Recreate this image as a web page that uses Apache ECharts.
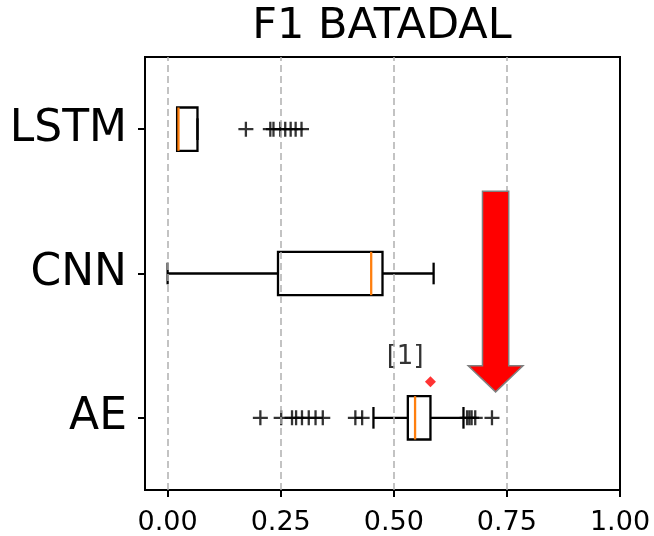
<!DOCTYPE html>
<html><head><meta charset="utf-8">
<script src="https://cdn.jsdelivr.net/npm/echarts@6/dist/echarts.min.js"></script>
<style>html,body{margin:0;padding:0;background:#fff}#c{width:654px;height:536px}</style>
</head><body><div id="c"></div>
<script>
const categories = ['AE', 'CNN', 'LSTM'];
const xTicks = [0, 0.25, 0.5, 0.75, 1.0];
// [low whisker, Q1, median, Q3, high whisker]
const statsAE = [0.455, 0.531, 0.547, 0.581, 0.654];
const statsCNN = [0.0, 0.244, 0.450, 0.475, 0.588];
const statsLSTM = [0.021, 0.021, 0.024, 0.066, 0.066];
const outliersAE = [0.205, 0.251, 0.275, 0.284, 0.297, 0.312, 0.327, 0.343, 0.415, 0.430, 0.662, 0.667, 0.672, 0.680, 0.717];
const outliersCNN = [];
const outliersLSTM = [0.173, 0.227, 0.234, 0.249, 0.260, 0.272, 0.283, 0.296];
const highlightPoint = [0.581, 1.25];
const highlightLabel = '[1]';
const highlightLabelAt = [0.525, 1.42];
const arrowSpec = [0.725, 2.57, 1.36, 1.18, 0.029, 0.0605]; // x, top, headBase, tip, shaftHalf, headHalf

const allStats = [statsAE, statsCNN, statsLSTM];
const allOutliers = [outliersAE, outliersCNN, outliersLSTM];
const boxData = allStats.map((s, i) => [i + 1].concat(s));
const outlierData = [];
allOutliers.forEach((arr, i) => arr.forEach(v => outlierData.push([v, i + 1])));

const FONT = 'DejaVu Sans';

function renderBox(params, api) {
  const yv = api.value(0);
  const lo = api.coord([api.value(1), yv]);
  const q1 = api.coord([api.value(2), yv]);
  const md = api.coord([api.value(3), yv]);
  const q3 = api.coord([api.value(4), yv]);
  const hi = api.coord([api.value(5), yv]);
  const band = api.size([0, 1])[1];
  const hb = band * 0.15, hc = band * 0.075;
  const y = q1[1];
  const ls = {stroke: '#000', lineWidth: 2.3, fill: null};
  return {type: 'group', children: [
    {type: 'line', shape: {x1: lo[0], y1: y, x2: q1[0], y2: y}, style: ls},
    {type: 'line', shape: {x1: q3[0], y1: y, x2: hi[0], y2: y}, style: ls},
    {type: 'line', shape: {x1: lo[0], y1: y - hc, x2: lo[0], y2: y + hc}, style: ls},
    {type: 'line', shape: {x1: hi[0], y1: y - hc, x2: hi[0], y2: y + hc}, style: ls},
    {type: 'rect', shape: {x: q1[0], y: y - hb, width: q3[0] - q1[0], height: 2 * hb}, style: {stroke: '#000', lineWidth: 2.3, fill: 'none'}},
    {type: 'line', shape: {x1: md[0], y1: y - hb, x2: md[0], y2: y + hb}, style: {stroke: '#ff7f0e', lineWidth: 2.3}}
  ]};
}

function renderArrow(params, api) {
  const x = api.value(0), top = api.value(1), hb = api.value(2), tip = api.value(3), sh = api.value(4), hh = api.value(5);
  const pts = [
    [x - sh, top], [x + sh, top], [x + sh, hb], [x + hh, hb], [x, tip], [x - hh, hb], [x - sh, hb]
  ].map(p => api.coord(p));
  return {type: 'polygon', shape: {points: pts}, style: {fill: '#ff0000', stroke: '#808080', lineWidth: 1.5}};
}

const chart = echarts.init(document.getElementById('c'));
chart.setOption({
  animation: false,
  textStyle: {fontFamily: FONT},
  title: {
    text: 'F1 BATADAL', left: 382, textAlign: 'center', top: 5, padding: 0,
    textStyle: {fontFamily: FONT, fontSize: 43, fontWeight: 'normal', color: '#000'}
  },
  grid: {left: 145, right: 34, top: 57, bottom: 46, show: true, borderColor: '#000', borderWidth: 2, backgroundColor: 'transparent'},
  xAxis: {
    type: 'value', min: -0.05, max: 1.0,
    axisLine: {show: true, onZero: false, lineStyle: {color: '#000', width: 2}},
    axisTick: {show: true, customValues: xTicks, length: 7, lineStyle: {color: '#000', width: 2}},
    axisLabel: {customValues: xTicks, formatter: v => v.toFixed(2), fontSize: 27, color: '#000', margin: 19, fontFamily: FONT},
    splitLine: {show: false}
  },
  yAxis: [
    {
      type: 'category', data: categories,
      axisLine: {show: true, onZero: false, lineStyle: {color: '#000', width: 2}},
      axisTick: {show: true, alignWithLabel: true, length: 7, lineStyle: {color: '#000', width: 2}},
      axisLabel: {fontSize: 44, color: '#000', margin: 18, fontFamily: FONT},
      splitLine: {show: false}
    },
    {type: 'value', min: 0.5, max: 3.5, show: false, axisLine: {onZero: false}, splitLine: {show: false}}
  ],
  series: [
    {
      type: 'scatter', yAxisIndex: 1, data: [], z: 1, silent: true,
      markLine: {
        silent: true, symbol: 'none', label: {show: false},
        lineStyle: {color: '#b0b0b0', width: 1.5, type: [7, 4]},
        data: xTicks.slice(0, 4).map(v => ({xAxis: v}))
      }
    },
    {type: 'custom', yAxisIndex: 1, data: boxData, renderItem: renderBox, encode: {x: [1, 2, 3, 4, 5], y: 0}, z: 3, silent: true},
    {
      type: 'scatter', yAxisIndex: 1, data: outlierData, z: 3, silent: true,
      symbol: 'path://M0,6H12M6,0V12', symbolSize: 15,
      itemStyle: {color: 'rgba(0,0,0,0)', borderColor: '#000', borderWidth: 2.3}
    },
    {
      type: 'scatter', yAxisIndex: 1, data: [highlightPoint], z: 4, silent: true,
      symbol: 'diamond', symbolSize: 11, itemStyle: {color: '#ff0000'}
    },
    {
      type: 'scatter', yAxisIndex: 1, data: [highlightLabelAt], z: 4, silent: true, symbolSize: 0,
      label: {show: true, position: 'inside', formatter: highlightLabel, fontSize: 26, color: '#000', fontFamily: FONT}
    },
    {type: 'custom', yAxisIndex: 1, data: [arrowSpec], renderItem: renderArrow, encode: {x: [0, 4, 5], y: [1, 2, 3]}, z: 5, silent: true}
  ]
});
</script>
</body></html>
